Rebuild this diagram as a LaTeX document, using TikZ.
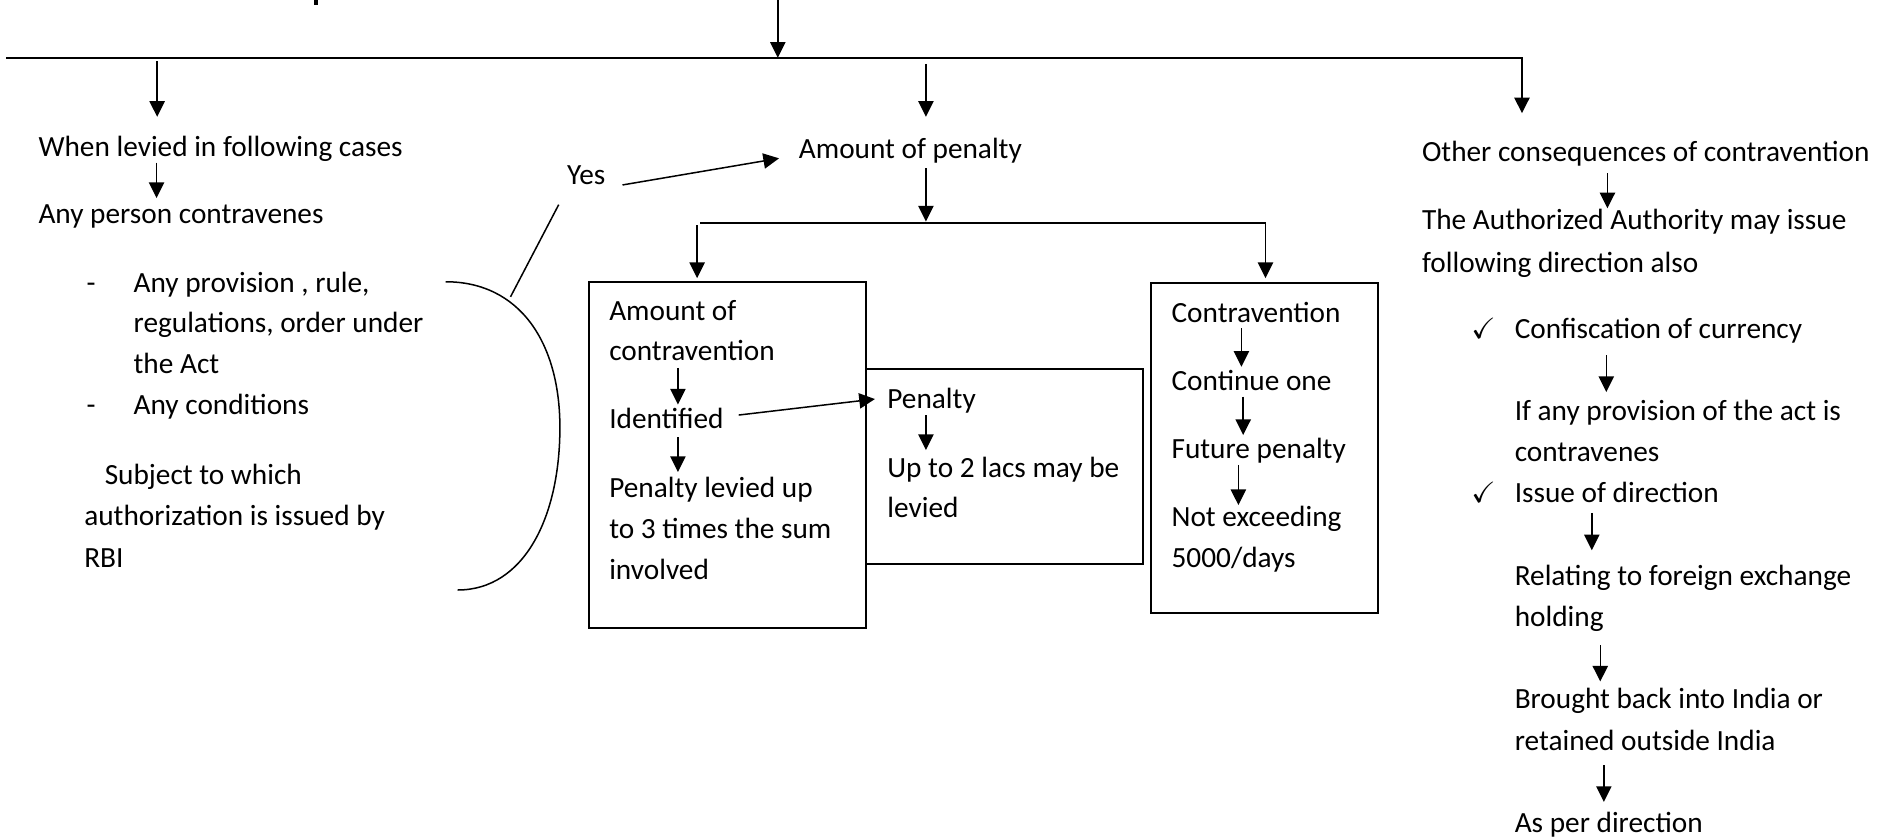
\documentclass[tikz,border=0pt]{standalone}
\usepackage{fontspec}
\setmainfont{Carlito}
\usepackage{amssymb}
\usetikzlibrary{arrows.meta}
\begin{document}
\begin{tikzpicture}[x=0.6pt,y=-0.6pt,
  txt/.style={anchor=base west,inner sep=0pt,outer sep=0pt,font=\fontsize{14.6}{20.4}\selectfont},
  arr/.style={line width=0.75pt,-{Triangle[length=7.8pt,width=7.6pt]}},
  ln/.style={line width=0.75pt},
  boxshape/.style={draw,line width=0.85pt,anchor=north west,inner sep=0pt,outer sep=0pt}]
\useasboundingbox (0,0) rectangle (1568,697);

% cut-off descender of the heading above
\fill (261,0) rectangle (264,4);

% ---------- boxes ----------
\node[boxshape,minimum width=138pt,minimum height=172.6pt] (boxA) at (489,234) {};
\node[boxshape,minimum width=138pt,minimum height=97pt] (boxB) at (719,306.6) {};
\node[boxshape,minimum width=113.2pt,minimum height=164.4pt] (boxC) at (956,235) {};

% ---------- left column ----------
\node[txt] (wl1) at (32,130) {When levied in following cases};
\node[txt] (wl2) at (32,186) {Any person contravenes};
\node[txt] (d1) at (72,243) {-};
\node[txt] (p1) at (111,243) {Any provision , rule,};
\node[txt] (p2) at (111,276.5) {regulations, order under};
\node[txt] (p3) at (111,310.5) {the Act};
\node[txt] (d2) at (72,344) {-};
\node[txt] (p4) at (111,344) {Any conditions};
\node[txt] (s1) at (87,402) {Subject to which};
\node[txt] (s2) at (70,436.5) {authorization is issued by};
\node[txt] (s3) at (70,471) {RBI};

% ---------- middle ----------
\node[txt] (yes) at (471,153) {Yes};
\node[txt] (ap) at (663.5,131.5) {Amount of penalty};

\node[txt] (a1) at (506,266.5) {Amount of};
\node[txt] (a2) at (506,299.5) {contravention};
\node[txt] (a3) at (506,356) {Identified};
\node[txt] (a4) at (506,413) {Penalty levied up};
\node[txt] (a5) at (506,447.5) {to 3 times the sum};
\node[txt] (a6) at (506,481) {involved};

\node[txt] (b1) at (737,339.5) {Penalty};
\node[txt] (b2) at (737,396.5) {Up to 2 lacs may be};
\node[txt] (b3) at (737,429.5) {levied};

\node[txt] (c1) at (973,267.5) {Contravention};
\node[txt] (c2) at (973,324.5) {Continue one};
\node[txt] (c3) at (973,381) {Future penalty};
\node[txt] (c4) at (973,437.5) {Not exceeding};
\node[txt] (c5) at (973,471) {5000/days};

% ---------- right column ----------
\node[txt] (r1) at (1181,134.5) {Other consequences of contravention};
\node[txt] (r2) at (1181,190.5) {The Authorized Authority may issue};
\node[txt] (r3) at (1181,226) {following direction also};
\node[txt] (k1) at (1222,281.5) {$\checkmark$};
\node[txt] (r4) at (1258,281.5) {Confiscation of currency};
\node[txt] (r5) at (1258,349.5) {If any provision of the act is};
\node[txt] (r6) at (1258,383.5) {contravenes};
\node[txt] (k2) at (1222,417.5) {$\checkmark$};
\node[txt] (r7) at (1258,417.5) {Issue of direction};
\node[txt] (r8) at (1258,486.5) {Relating to foreign exchange};
\node[txt] (r9) at (1258,520) {holding};
\node[txt] (r10) at (1258,588.5) {Brought back into India or};
\node[txt] (r11) at (1258,623.5) {retained outside India};
\node[txt] (r12) at (1258,691) {As per direction};

% ---------- connector end points ----------
\coordinate (top0) at (646,0);
\coordinate (top1) at (646,48);
\coordinate (hl) at (5,48);
\coordinate (hr) at (1264,48);
\coordinate (hrd) at (1264,94);
\coordinate (la0) at (130.5,51);
\coordinate (la1) at (130.5,97);
\coordinate (ma0) at (769,53);
\coordinate (ma1) at (769,97);
\coordinate (w0) at (130,135);
\coordinate (w1) at (130,164.5);
\coordinate (arcA) at (370,234);
\coordinate (arcM) at (465,355);
\coordinate (arcB) at (380,490);
\coordinate (yl0) at (424,246.5);
\coordinate (yl1) at (464,170);
\coordinate (ya0) at (517,153.6);
\coordinate (ya1) at (647,131.5);
\coordinate (pa0) at (769,139.6);
\coordinate (pa1) at (769,184);
\coordinate (sl) at (581.5,185.4);
\coordinate (sr) at (1051,185.4);
\coordinate (srd) at (1051,231);
\coordinate (sa0) at (579,187);
\coordinate (sa1) at (579,231);
\coordinate (ia0) at (563,305.6);
\coordinate (ia1) at (563,336);
\coordinate (ib0) at (563,363);
\coordinate (ib1) at (563,392);
\coordinate (ip0) at (613.5,344.7);
\coordinate (ip1) at (726.6,331.4);
\coordinate (pb0) at (769,344.7);
\coordinate (pb1) at (769,373.8);
\coordinate (ca0) at (1031,272.5);
\coordinate (ca1) at (1031,304.6);
\coordinate (cb0) at (1032.5,329.5);
\coordinate (cb1) at (1032.5,361.3);
\coordinate (cc0) at (1028.5,386);
\coordinate (cc1) at (1028.5,419.5);
\coordinate (ra0) at (1335,144);
\coordinate (ra1) at (1335,173);
\coordinate (rb0) at (1334,295);
\coordinate (rb1) at (1334,325.6);
\coordinate (rc0) at (1322,426);
\coordinate (rc1) at (1322,457);
\coordinate (rd0) at (1329,536);
\coordinate (rd1) at (1329,566);
\coordinate (re0) at (1332,635.5);
\coordinate (re1) at (1332,666);

% ---------- connectors ----------
\draw[arr] (top0) -- (top1);
\draw[arr,line width=1pt] (hl) -- (hr) -- (hrd);
\draw[arr] (la0) -- (la1);
\draw[arr] (ma0) -- (ma1);
\draw[arr] (w0) -- (w1);

% bracket round the listed cases
\draw[ln] (arcA) .. controls (432,234) and (465,285) .. (arcM)
               .. controls (465,430) and (435,490) .. (arcB);
\draw[ln] (yl0) -- (yl1);
\draw[arr] (ya0) -- (ya1);

\draw[arr] (pa0) -- (pa1);
\draw[arr] (sl) -- (sr) -- (srd);
\draw[arr] (sa0) -- (sa1);

\draw[arr] (ia0) -- (ia1);
\draw[arr] (ib0) -- (ib1);
\draw[arr] (ip0) -- (ip1);
\draw[arr] (pb0) -- (pb1);

\draw[arr] (ca0) -- (ca1);
\draw[arr] (cb0) -- (cb1);
\draw[arr] (cc0) -- (cc1);

\draw[arr] (ra0) -- (ra1);
\draw[arr] (rb0) -- (rb1);
\draw[arr] (rc0) -- (rc1);
\draw[arr] (rd0) -- (rd1);
\draw[arr] (re0) -- (re1);
\end{tikzpicture}
\end{document}
